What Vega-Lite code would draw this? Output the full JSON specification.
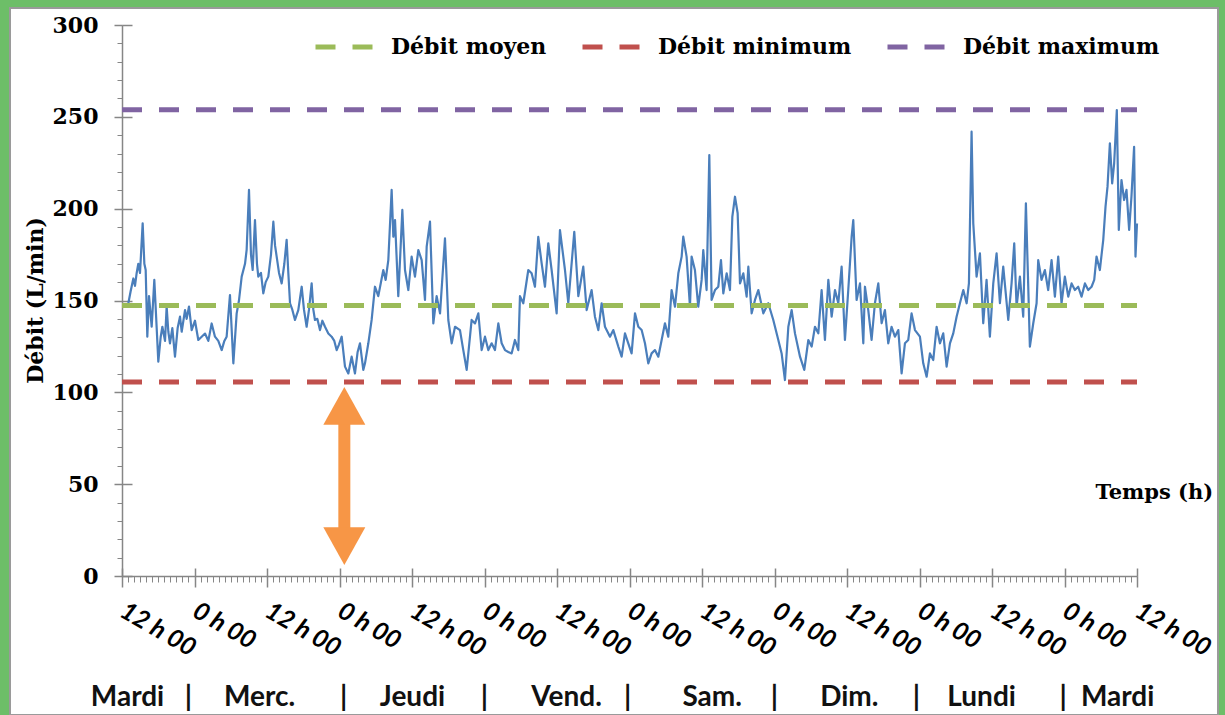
{
"$schema": "https://vega.github.io/schema/vega-lite/v6.json",
"width": 1208, "height": 707,
"autosize": "none",
"padding": {"left": 10, "top": 8, "right": 7, "bottom": 0},
"background": "#6DBE68",
"config": {"view": {"fill": "white", "stroke": "#9A9A9A", "strokeWidth": 2}, "axis": {"grid": false}},
"datasets": {
"serie": [
{"t":0.5,"v":147},{"t":1.05,"v":148.5},{"t":1.43,"v":155},{"t":1.88,"v":162},{"t":2.15,"v":158},{"t":2.43,"v":165},{"t":2.7,"v":170},{"t":2.98,"v":165},{"t":3.42,"v":192},{"t":3.7,"v":170},{"t":3.92,"v":166.6},{"t":4.19,"v":130.3},{"t":4.47,"v":152.4},{"t":4.91,"v":135.7},{"t":5.35,"v":161.2},{"t":5.74,"v":135},{"t":6.01,"v":116.7},{"t":6.4,"v":130},{"t":6.68,"v":135.7},{"t":7.12,"v":128},{"t":7.39,"v":146.7},{"t":7.67,"v":133},{"t":7.94,"v":126.7},{"t":8.33,"v":135},{"t":8.77,"v":119.4},{"t":9.21,"v":135},{"t":9.6,"v":141.2},{"t":9.88,"v":133},{"t":10.43,"v":144.8},{"t":10.7,"v":140},{"t":11.09,"v":146.7},{"t":11.53,"v":133.9},{"t":12.08,"v":139},{"t":12.63,"v":128.5},{"t":13.19,"v":130.3},{"t":13.74,"v":132},{"t":14.29,"v":128},{"t":14.84,"v":137.5},{"t":15.39,"v":130.3},{"t":15.94,"v":128},{"t":16.5,"v":123},{"t":16.94,"v":128},{"t":17.32,"v":130.3},{"t":17.87,"v":153},{"t":18.43,"v":115.8},{"t":18.98,"v":143},{"t":19.36,"v":150},{"t":19.81,"v":163},{"t":20.36,"v":170},{"t":20.63,"v":177.5},{"t":21.02,"v":210.2},{"t":21.35,"v":175},{"t":21.63,"v":166.6},{"t":22.01,"v":193.8},{"t":22.34,"v":170},{"t":22.56,"v":163},{"t":23.0,"v":165},{"t":23.39,"v":153.9},{"t":23.78,"v":160},{"t":24.22,"v":163},{"t":24.66,"v":175},{"t":25.05,"v":192.9},{"t":25.33,"v":180},{"t":25.6,"v":173.9},{"t":25.99,"v":165},{"t":26.43,"v":159.3},{"t":26.87,"v":170},{"t":27.25,"v":183},{"t":27.53,"v":165},{"t":27.81,"v":148.5},{"t":28.19,"v":145},{"t":28.63,"v":139.4},{"t":29.18,"v":144.8},{"t":29.74,"v":157.5},{"t":30.12,"v":145},{"t":30.56,"v":135.7},{"t":30.95,"v":145},{"t":31.39,"v":159.3},{"t":31.67,"v":145},{"t":31.94,"v":139.4},{"t":32.33,"v":140},{"t":32.77,"v":133.9},{"t":33.16,"v":139},{"t":33.6,"v":135.7},{"t":34.15,"v":132},{"t":34.7,"v":130.3},{"t":35.14,"v":128},{"t":35.53,"v":123},{"t":35.91,"v":126},{"t":36.36,"v":130.3},{"t":36.91,"v":114},{"t":37.46,"v":110.3},{"t":38.01,"v":119.4},{"t":38.56,"v":110.3},{"t":39.0,"v":122},{"t":39.39,"v":126.7},{"t":39.94,"v":112.2},
{"t":40.22,"v":115.8},{"t":40.77,"v":126.7},{"t":41.32,"v":139.4},{"t":41.87,"v":157.5},{"t":42.42,"v":152.4},{"t":43.25,"v":166.6},{"t":43.64,"v":161.2},{"t":44.08,"v":172},{"t":44.63,"v":210.2},{"t":44.91,"v":184.7},{"t":45.19,"v":193.8},{"t":45.73,"v":152.4},{"t":46.07,"v":175.7},{"t":46.4,"v":199.3},{"t":46.84,"v":166.6},{"t":47.39,"v":155.7},{"t":47.94,"v":173.9},{"t":48.49,"v":163},{"t":49.05,"v":177.5},{"t":49.6,"v":172},{"t":50.15,"v":150.3},{"t":50.43,"v":179.3},{"t":50.98,"v":192.9},{"t":51.53,"v":137.5},{"t":52.08,"v":152.4},{"t":52.64,"v":143},{"t":53.46,"v":183.8},{"t":54.01,"v":139.4},{"t":54.57,"v":126.7},{"t":55.12,"v":135.7},{"t":55.94,"v":133.9},{"t":56.49,"v":123},{"t":57.05,"v":112.2},{"t":57.87,"v":139.4},{"t":58.43,"v":137.5},{"t":58.98,"v":143},{"t":59.53,"v":123},{"t":60.08,"v":130.3},{"t":60.63,"v":123},{"t":61.18,"v":126.7},{"t":61.73,"v":123},{"t":62.29,"v":137.5},{"t":62.84,"v":126.7},{"t":63.39,"v":123},{"t":63.94,"v":122},{"t":64.49,"v":121.2},{"t":65.04,"v":128.5},{"t":65.6,"v":123},{"t":65.87,"v":152.4},{"t":66.42,"v":148.5},{"t":67.25,"v":166.6},{"t":67.8,"v":164.8},{"t":68.35,"v":157.5},{"t":68.9,"v":184.7},{"t":69.46,"v":170.2},{"t":70.01,"v":157.5},{"t":70.56,"v":181.1},{"t":71.11,"v":166.6},{"t":71.94,"v":143},{"t":72.49,"v":188.3},{"t":73.32,"v":166.6},{"t":73.87,"v":148.5},{"t":74.86,"v":187.4},{"t":75.53,"v":152.4},{"t":76.35,"v":168.4},{"t":76.91,"v":144.8},{"t":77.73,"v":155.7},{"t":78.28,"v":141.2},{"t":78.84,"v":133.9},{"t":79.39,"v":148.5},{"t":79.94,"v":135.7},{"t":80.77,"v":130.3},{"t":81.32,"v":133.9},
{"t":82.15,"v":124.9},{"t":82.7,"v":119.4},{"t":83.25,"v":132.1},{"t":83.8,"v":126.7},{"t":84.35,"v":121.2},{"t":84.91,"v":143},{"t":85.46,"v":135.7},{"t":86.01,"v":133.9},{"t":86.56,"v":126.7},{"t":87.11,"v":115.8},{"t":87.66,"v":121.2},{"t":88.21,"v":123},{"t":88.77,"v":119.4},{"t":89.32,"v":128.5},{"t":89.87,"v":137.6},{"t":90.42,"v":130.3},{"t":90.97,"v":155.7},{"t":91.53,"v":146.6},{"t":92.08,"v":164.8},{"t":92.63,"v":173.9},{"t":92.9,"v":184.8},{"t":93.45,"v":173.9},{"t":94.01,"v":146.6},{"t":94.28,"v":173.9},{"t":94.83,"v":166.6},{"t":95.38,"v":146.6},{"t":95.94,"v":161.2},{"t":96.21,"v":177.5},{"t":96.76,"v":155.7},{"t":97.21,"v":229.2},{"t":97.59,"v":150.3},{"t":98.15,"v":155.7},{"t":98.7,"v":157.5},{"t":99.14,"v":172},{"t":99.53,"v":153.9},{"t":100.08,"v":164.8},{"t":100.63,"v":155.7},{"t":101.02,"v":195.6},{"t":101.46,"v":206.5},{"t":101.9,"v":197.5},{"t":102.29,"v":159.3},{"t":102.84,"v":164.8},{"t":103.39,"v":152.1},{"t":103.67,"v":168.4},{"t":104.22,"v":143},{"t":104.77,"v":150.3},{"t":105.32,"v":155.7},{"t":106.15,"v":143},{"t":106.97,"v":148.5},{"t":107.8,"v":139.4},{"t":108.63,"v":128.5},{"t":109.18,"v":121.2},{"t":109.73,"v":106.7},{"t":110.29,"v":135.7},{"t":110.84,"v":144.8},{"t":111.39,"v":132.1},{"t":112.22,"v":119.4},{"t":112.93,"v":112.2},{"t":113.6,"v":128.5},{"t":114.15,"v":124.9},{"t":114.7,"v":135.7},{"t":115.25,"v":132.1},{"t":115.8,"v":155.7},{"t":116.35,"v":128.5},{"t":116.91,"v":161.2},{"t":117.46,"v":141.2},{"t":118.01,"v":155.7},{"t":118.56,"v":148.5},{"t":119.11,"v":168.4},{"t":119.66,"v":128.5},{"t":120.21,"v":155.7},{"t":120.77,"v":184.8},{"t":121.04,"v":193.8},{"t":121.59,"v":150.3},{"t":122.15,"v":159.3},{"t":122.7,"v":126.7},
{"t":122.97,"v":157.5},{"t":123.52,"v":144.8},{"t":124.07,"v":128.5},{"t":124.62,"v":148.5},{"t":125.18,"v":159.3},{"t":125.73,"v":137.6},{"t":126.28,"v":144.8},{"t":126.83,"v":126.7},{"t":127.38,"v":135.7},{"t":127.93,"v":130.3},{"t":128.49,"v":133.9},{"t":129.04,"v":110.3},{"t":129.59,"v":126.7},{"t":130.14,"v":128.5},{"t":130.69,"v":143},{"t":131.25,"v":133.9},{"t":132.07,"v":130.3},{"t":132.62,"v":115.8},{"t":133.18,"v":108.5},{"t":133.73,"v":121.2},{"t":134.28,"v":117.6},{"t":134.83,"v":135.7},{"t":135.38,"v":126.7},{"t":135.93,"v":132.1},{"t":136.49,"v":114},{"t":137.04,"v":126.7},{"t":137.59,"v":132.1},{"t":138.14,"v":141.2},{"t":138.69,"v":148.5},{"t":139.25,"v":155.7},{"t":139.8,"v":148.5},{"t":140.18,"v":159.3},{"t":140.62,"v":241.9},{"t":140.9,"v":192},{"t":141.45,"v":163},{"t":142.0,"v":175.7},{"t":142.55,"v":137.6},{"t":143.1,"v":161.2},{"t":143.65,"v":130.3},{"t":144.21,"v":159.3},{"t":144.76,"v":175.7},{"t":145.31,"v":148.5},{"t":145.86,"v":168.4},{"t":146.69,"v":139.4},{"t":147.24,"v":159.3},{"t":147.68,"v":181.1},{"t":148.07,"v":146.6},{"t":148.62,"v":163},{"t":149.17,"v":141.2},{"t":149.61,"v":202.9},{"t":150.0,"v":157.5},{"t":150.27,"v":124.9},{"t":150.83,"v":137.6},{"t":151.38,"v":148.5},{"t":151.65,"v":172},{"t":152.2,"v":161.2},{"t":152.75,"v":166.6},{"t":153.3,"v":155.7},{"t":153.86,"v":172},{"t":154.41,"v":152.1},{"t":154.96,"v":173.9},{"t":155.51,"v":148.5},{"t":156.06,"v":163},{"t":156.62,"v":152.1},{"t":157.17,"v":159.3},{"t":157.72,"v":155.7},{"t":158.27,"v":157.5},{"t":158.82,"v":152.1},{"t":159.38,"v":159.3},{"t":159.93,"v":155.7},{"t":160.48,"v":157.5},{"t":160.92,"v":161.2},{"t":161.3,"v":173.9},{"t":161.85,"v":166.6},{"t":162.41,"v":182.9},{"t":162.79,"v":201.1},{"t":163.12,"v":212},{"t":163.51,"v":235.6},{"t":163.89,"v":213.8},{"t":164.22,"v":224.7},{"t":164.66,"v":253.7},{"t":164.99,"v":188.4},{"t":165.43,"v":215.6},{"t":165.87,"v":204.7},{"t":166.26,"v":210.2},{"t":166.7,"v":188.4},{"t":167.08,"v":206.5},{"t":167.52,"v":233.7},{"t":167.75,"v":173.9},{"t":168.0,"v":192}
],
"ref": [
{"nom": "Débit moyen", "v": 147.3},
{"nom": "Débit minimum", "v": 105.6},
{"nom": "Débit maximum", "v": 253.8}
],
"fleche": [
{"bout": "haut", "t": 36.8, "v": 92.6},
{"bout": "bas", "t": 36.8, "v": 16.3}
]
},
"resolve": {"axis": {"x": "independent", "y": "independent"}},
"layer": [
{
"data": {"name": "serie"},
"mark": {"type": "line", "color": "#4A7EBB", "strokeWidth": 2.2, "strokeJoin": "round"},
"encoding": {
"x": {"field": "t", "type": "quantitative",
"scale": {"domain": [0, 168], "range": [112, 1127], "nice": false, "zero": false},
"axis": {"orient": "bottom", "offset": -139, "values": [0,12,24,36,48,60,72,84,96,108,120,132,144,156,168],
"labelExpr": "datum.value % 24 == 0 ? '12 h 00' : '0 h 00'",
"labelAngle": 30, "labelAlign": "left", "labelBaseline": "top",
"labelFont": "Lato", "labelFontStyle": "italic", "labelFontWeight": "bold", "labelFontSize": 25, "labelColor": "#000",
"labelPadding": 11, "labelOffset": 6, "labelOverlap": false, "labelFlush": false,
"tickSize": 11, "tickColor": "#868686", "tickWidth": 1.5, "domainColor": "#868686", "domainWidth": 1.5,
"title": "Temps (h)", "titleFont": "DejaVu Serif", "titleFontWeight": "bold", "titleFontSize": 21, "titleColor": "#000",
"titleX": 1085, "titleY": -84, "titleAlign": "left", "titleBaseline": "middle"}},
"y": {"field": "v", "type": "quantitative",
"scale": {"domain": [0, 300], "range": [568, 17], "nice": false, "zero": false},
"axis": {"orient": "left", "offset": -112, "values": [0,50,100,150,200,250,300],
"labelFont": "DejaVu Serif", "labelFontWeight": "bold", "labelFontSize": 22, "labelColor": "#000",
"labelPadding": 16, "labelOverlap": false, "labelFlush": false,
"tickSize": 8, "tickColor": "#868686", "tickWidth": 1.5, "domainColor": "#868686", "domainWidth": 1.5,
"title": "Débit (L/min)", "titleFont": "DejaVu Serif", "titleFontWeight": "bold", "titleFontSize": 22, "titleColor": "#000",
"titleX": -87, "titleY": 292, "titleAngle": -90, "titleAlign": "center", "titleBaseline": "middle"}}
}
},
{
"data": {"name": "ref"},
"mark": {"type": "rule", "strokeWidth": 5, "strokeDash": [20, 17]},
"encoding": {
"x": {"datum": 0, "type": "quantitative",
"scale": {"domain": [0, 168], "range": [112, 1127], "nice": false, "zero": false},
"axis": {"orient": "bottom", "offset": -139, "tickCount": 168, "labels": false, "domain": false, "tickSize": 6, "tickColor": "#868686", "tickWidth": 1, "title": null}},
"x2": {"datum": 168},
"y": {"field": "v", "type": "quantitative",
"scale": {"domain": [0, 300], "range": [568, 17], "nice": false, "zero": false},
"axis": {"orient": "left", "offset": -112, "tickCount": 30, "labels": false, "domain": false, "tickSize": 5, "tickColor": "#868686", "tickWidth": 1, "title": null}},
"color": {"field": "nom", "type": "nominal",
"scale": {"domain": ["Débit moyen", "Débit minimum", "Débit maximum"], "range": ["#9BBB59", "#C0504D", "#8064A2"]},
"legend": {"title": null, "orient": "none", "legendX": 303, "legendY": 8, "direction": "horizontal",
"symbolType": "stroke", "symbolSize": 3249, "symbolStrokeWidth": 5, "symbolDash": [20, 17],
"labelFont": "DejaVu Serif", "labelFontWeight": "bold", "labelFontSize": 22, "labelColor": "#000",
"labelOffset": 16, "columnPadding": 25, "labelLimit": 400}}
}
},
{
"data": {"name": "fleche"},
"mark": {"type": "line", "color": "#F79646", "strokeWidth": 12, "strokeCap": "butt"},
"encoding": {
"x": {"field": "t", "type": "quantitative",
"scale": {"domain": [0, 168], "range": [112, 1127], "nice": false, "zero": false},
"axis": {"orient": "bottom", "offset": -139,
"values": [0.83, 10.9, 22.7, 36.6, 48, 59.9, 73.5, 83.6, 97.6, 107.9, 120.3, 131.4, 142.2, 155.7, 164.7],
"labelExpr": "['Mardi','|','Merc.','|','Jeudi','|','Vend.','|','Sam.','|','Dim.','|','Lundi','|','Mardi'][indexof([0.83, 10.9, 22.7, 36.6, 48, 59.9, 73.5, 83.6, 97.6, 107.9, 120.3, 131.4, 142.2, 155.7, 164.7], datum.value)]",
"domain": false, "ticks": false, "tickSize": 0, "labelPadding": 129, "labelBaseline": "alphabetic", "labelAlign": "center", "labelAngle": 0,
"labelFont": "Lato", "labelFontWeight": "bold", "labelFontSize": 28, "labelColor": "#111",
"labelOverlap": false, "labelFlush": false, "title": null}},
"y": {"field": "v", "type": "quantitative",
"scale": {"domain": [0, 300], "range": [568, 17], "nice": false, "zero": false},
"axis": {"orient": "left", "offset": -112, "values": [0,50,100,150,200,250,300], "labels": false, "domain": false, "tickSize": -10, "tickColor": "#868686", "tickWidth": 1.5, "title": null}}
}
},
{
"data": {"name": "fleche"},
"mark": {"type": "point", "filled": true, "color": "#F79646", "opacity": 1, "size": 1764},
"encoding": {
"x": {"field": "t", "type": "quantitative",
"scale": {"domain": [0, 168], "range": [112, 1127], "nice": false, "zero": false},
"axis": {"orient": "bottom", "offset": -139, "values": [0,12,24,36,48,60,72,84,96,108,120,132,144,156,168], "labels": false, "domain": false, "tickSize": -8, "tickColor": "#868686", "tickWidth": 1.5, "title": null}},
"y": {"field": "v", "type": "quantitative",
"scale": {"domain": [0, 300], "range": [568, 17], "nice": false, "zero": false}, "axis": null},
"shape": {"field": "bout", "type": "nominal",
"scale": {"domain": ["haut", "bas"], "range": ["M-1,0.9L0,-0.9L1,0.9Z", "M-1,-0.9L0,0.9L1,-0.9Z"]}, "legend": null}
}
}
]
}
